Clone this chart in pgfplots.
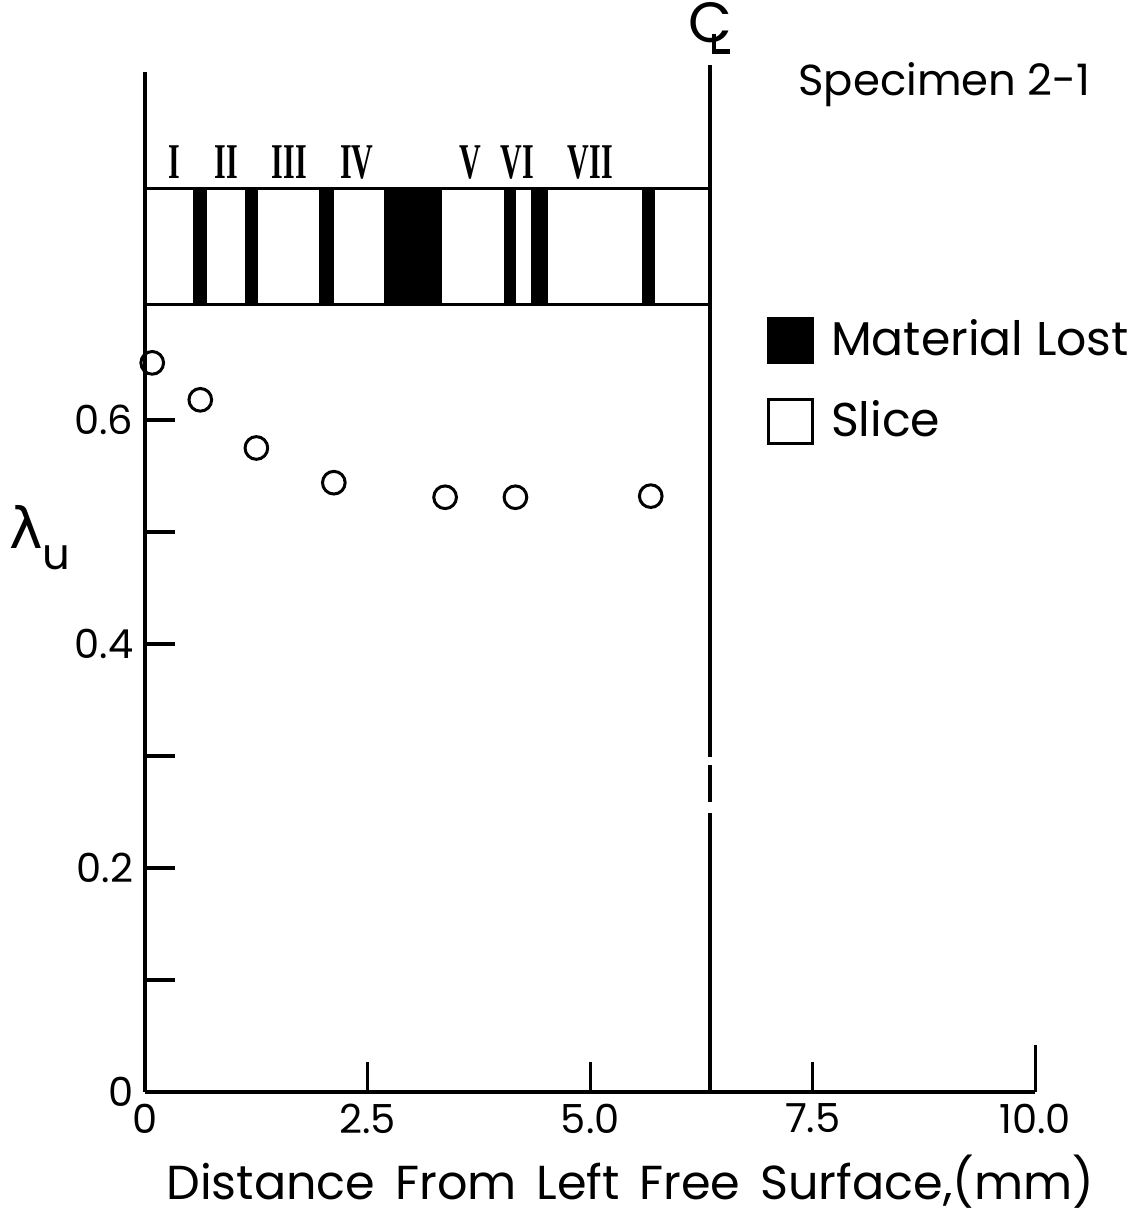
\documentclass[border=0pt]{standalone}
\usepackage{fontspec}
\setmainfont{Poppins}
\newfontfamily\dejavu{DejaVu Sans}
\newfontfamily\numfont{Liberation Serif}
\usepackage{pgfplots}
\pgfplotsset{compat=1.18}

\begin{document}
\begin{tikzpicture}
\begin{axis}[
  scale only axis, width=267pt, height=306pt,
  xmin=0, xmax=10, ymin=0, ymax=0.911,
  axis x line=bottom, axis y line=left,
  axis line style={-, line width=1.2pt},
  clip=false,
  xtick={0,2.5,5,7.5,10}, xticklabels={0,2.5,5.0,7.5,10.0},
  ytick={0,0.1,0.2,0.3,0.4,0.5,0.6}, yticklabels={0,,0.2,,0.4,,0.6},
  tick align=inside, major tick length=9pt,
  tick style={line width=1pt, black},
  tick label style={font=\fontsize{12}{14}\selectfont},
  /pgf/number format/assume math mode=true,
  xlabel={Distance\hspace{0.15em} From\hspace{0.15em} Left\hspace{0.15em} Free\hspace{0.15em} Surface,(mm)},
  xlabel style={at={(axis description cs:0.545,-0.088)}, anchor=center, inner sep=0pt,
    font=\fontsize{14.3}{17}\selectfont},
  legend style={at={(0.698,0.764)}, anchor=north west, draw=none, fill=none,
    inner sep=0pt, font=\fontsize{14.2}{17}\selectfont, row sep=8pt,
    /tikz/every odd column/.append style={column sep=3pt}},
  legend cell align=left,
  legend image code/.code={\draw[#1, line width=1pt] (0pt,-6.6pt) rectangle (13.2pt,6.6pt);},
]
% material lost bands
\addplot[fill=black, draw=black, forget plot] coordinates {(0.55,0.703) (0.69,0.703) (0.69,0.807) (0.55,0.807)} -- cycle;
\addplot[fill=black, draw=black, forget plot] coordinates {(1.13,0.703) (1.26,0.703) (1.26,0.807) (1.13,0.807)} -- cycle;
\addplot[fill=black, draw=black, forget plot] coordinates {(1.96,0.703) (2.11,0.703) (2.11,0.807) (1.96,0.807)} -- cycle;
\addplot[fill=black, draw=black, forget plot] coordinates {(2.69,0.703) (3.33,0.703) (3.33,0.807) (2.69,0.807)} -- cycle;
\addplot[fill=black, draw=black, forget plot] coordinates {(4.04,0.703) (4.16,0.703) (4.16,0.807) (4.04,0.807)} -- cycle;
\addplot[fill=black, draw=black, forget plot] coordinates {(4.34,0.703) (4.52,0.703) (4.52,0.807) (4.34,0.807)} -- cycle;
\addplot[fill=black, draw=black, forget plot] coordinates {(5.59,0.703) (5.72,0.703) (5.72,0.807) (5.59,0.807)} -- cycle;
% strip frame
\addplot[black, line width=0.9pt, forget plot] coordinates {(0,0.807) (6.35,0.807)};
\addplot[black, line width=0.9pt, forget plot] coordinates {(0,0.703) (6.35,0.703)};
% data
\addplot[only marks, mark=o, mark size=3.4pt, mark options={line width=0.9pt}, black, forget plot]
  coordinates {(0.08,0.651) (0.62,0.618) (1.25,0.575) (2.12,0.544) (3.37,0.531) (4.16,0.531) (5.68,0.532)};
% centre line
\draw[line width=1.2pt] (axis cs:6.35,0) -- (axis cs:6.35,0.249);
\draw[line width=1.2pt] (axis cs:6.35,0.259) -- (axis cs:6.35,0.292);
\draw[line width=1.2pt] (axis cs:6.35,0.299) -- (axis cs:6.35,0.917);
\node[inner sep=0pt, font=\fontsize{17}{17}\selectfont] at (axis cs:6.35,0.955) {C};
\draw[line width=1.3pt] (axis cs:6.39,0.945) -- (axis cs:6.39,0.929) -- (axis cs:6.57,0.929);
\draw[line width=1pt] (axis cs:10,0) -- (axis cs:10,0.042);
% slice numerals
\foreach \xx/\lab in {0.33/I,0.91/II,1.62/III,2.38/IV,3.65/V,4.18/VI,5.00/VII}{
  \edef\tmp{\noexpand\node[inner sep=0pt, font=\noexpand\numfont\noexpand\bfseries\noexpand\fontsize{15}{15}\noexpand\selectfont] at (axis cs:\xx,0.830) {\noexpand\scalebox{0.6}[1]{\lab}};}\tmp
}
\node[inner sep=0pt, font=\fontsize{13}{16}\selectfont] at (axis cs:8.98,0.899) {Specimen 2-1};
\node[inner sep=0pt, font=\fontsize{17}{17}\selectfont] at (axis cs:-1.18,0.495) {{\dejavu λ}\raisebox{-0.7ex}{\fontsize{13}{13}\selectfont u}};
\addlegendimage{fill=black, draw=black}
\addlegendentry{Material Lost}
\addlegendimage{fill=white, draw=black}
\addlegendentry{Slice}
\path (axis cs:-1.63,-0.109) rectangle (axis cs:11.26,0.975);
\end{axis}
\end{tikzpicture}
\end{document}
